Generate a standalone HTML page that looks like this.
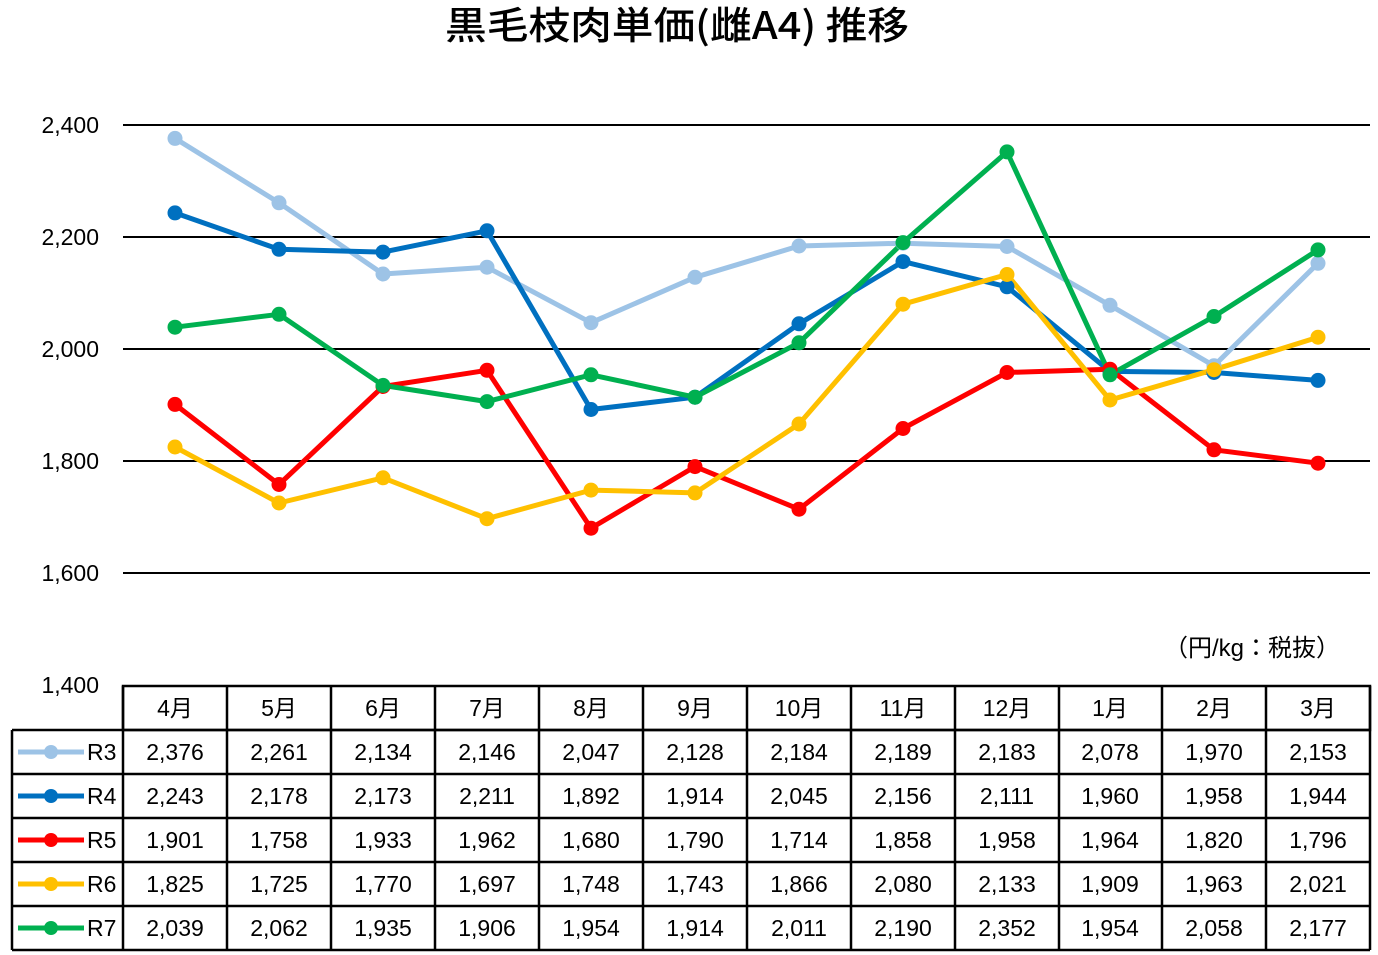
<!DOCTYPE html>
<html><head><meta charset="utf-8"><style>
html,body{margin:0;padding:0;background:#fff;}
svg{display:block;font-family:"Liberation Sans","Noto Sans CJK JP",sans-serif;}
</style></head><body>
<svg width="1378" height="955" viewBox="0 0 1378 955" xmlns="http://www.w3.org/2000/svg">
<text x="677" y="39" font-size="38" text-anchor="middle" font-weight="500" fill="#000" font-family="'Noto Sans CJK JP','Liberation Sans',sans-serif" textLength="464" lengthAdjust="spacingAndGlyphs">黒毛枝肉単価(雌A4) 推移</text>
<g stroke="#000" stroke-width="2">
<line x1="123" y1="125" x2="1370" y2="125"/>
<line x1="123" y1="237" x2="1370" y2="237"/>
<line x1="123" y1="349" x2="1370" y2="349"/>
<line x1="123" y1="461" x2="1370" y2="461"/>
<line x1="123" y1="573" x2="1370" y2="573"/>
</g>
<g font-size="23" text-anchor="end" fill="#000">
<text x="99" y="133">2,400</text>
<text x="99" y="245">2,200</text>
<text x="99" y="357">2,000</text>
<text x="99" y="469">1,800</text>
<text x="99" y="581">1,600</text>
<text x="99" y="693">1,400</text>
</g>
<text x="1340" y="656" font-size="24" text-anchor="end" fill="#000">（円/kg：税抜）</text>
<g fill="none" stroke-width="5" stroke-linejoin="round">
<polyline stroke="#9dc3e6" points="175,138.4 279,202.8 383,274 487,267.2 591,322.7 695,277.3 799,246 903,243.2 1007,246.5 1110,305.3 1214,365.8 1318,263.3"/>
<polyline stroke="#0070c0" points="175,212.9 279,249.3 383,252.1 487,230.8 591,409.5 695,397.2 799,323.8 903,261.6 1007,286.8 1110,371.4 1214,372.5 1318,380.4"/>
<polyline stroke="#ff0000" points="175,404.4 279,484.5 383,386.5 487,370.3 591,528.2 695,466.6 799,509.2 903,428.5 1007,372.5 1110,369.2 1214,449.8 1318,463.2"/>
<polyline stroke="#ffc000" points="175,447 279,503 383,477.8 487,518.7 591,490.1 695,492.9 799,424 903,304.2 1007,274.5 1110,400 1214,369.7 1318,337.2"/>
<polyline stroke="#00b050" points="175,327.2 279,314.3 383,385.4 487,401.6 591,374.8 695,397.2 799,342.8 903,242.6 1007,151.9 1110,374.8 1214,316.5 1318,249.9"/>
</g>
<g fill="#9dc3e6"><circle cx="175" cy="138.4" r="7.5"/><circle cx="279" cy="202.8" r="7.5"/><circle cx="383" cy="274" r="7.5"/><circle cx="487" cy="267.2" r="7.5"/><circle cx="591" cy="322.7" r="7.5"/><circle cx="695" cy="277.3" r="7.5"/><circle cx="799" cy="246" r="7.5"/><circle cx="903" cy="243.2" r="7.5"/><circle cx="1007" cy="246.5" r="7.5"/><circle cx="1110" cy="305.3" r="7.5"/><circle cx="1214" cy="365.8" r="7.5"/><circle cx="1318" cy="263.3" r="7.5"/></g>
<g fill="#0070c0"><circle cx="175" cy="212.9" r="7.5"/><circle cx="279" cy="249.3" r="7.5"/><circle cx="383" cy="252.1" r="7.5"/><circle cx="487" cy="230.8" r="7.5"/><circle cx="591" cy="409.5" r="7.5"/><circle cx="695" cy="397.2" r="7.5"/><circle cx="799" cy="323.8" r="7.5"/><circle cx="903" cy="261.6" r="7.5"/><circle cx="1007" cy="286.8" r="7.5"/><circle cx="1110" cy="371.4" r="7.5"/><circle cx="1214" cy="372.5" r="7.5"/><circle cx="1318" cy="380.4" r="7.5"/></g>
<g fill="#ff0000"><circle cx="175" cy="404.4" r="7.5"/><circle cx="279" cy="484.5" r="7.5"/><circle cx="383" cy="386.5" r="7.5"/><circle cx="487" cy="370.3" r="7.5"/><circle cx="591" cy="528.2" r="7.5"/><circle cx="695" cy="466.6" r="7.5"/><circle cx="799" cy="509.2" r="7.5"/><circle cx="903" cy="428.5" r="7.5"/><circle cx="1007" cy="372.5" r="7.5"/><circle cx="1110" cy="369.2" r="7.5"/><circle cx="1214" cy="449.8" r="7.5"/><circle cx="1318" cy="463.2" r="7.5"/></g>
<g fill="#ffc000"><circle cx="175" cy="447" r="7.5"/><circle cx="279" cy="503" r="7.5"/><circle cx="383" cy="477.8" r="7.5"/><circle cx="487" cy="518.7" r="7.5"/><circle cx="591" cy="490.1" r="7.5"/><circle cx="695" cy="492.9" r="7.5"/><circle cx="799" cy="424" r="7.5"/><circle cx="903" cy="304.2" r="7.5"/><circle cx="1007" cy="274.5" r="7.5"/><circle cx="1110" cy="400" r="7.5"/><circle cx="1214" cy="369.7" r="7.5"/><circle cx="1318" cy="337.2" r="7.5"/></g>
<g fill="#00b050"><circle cx="175" cy="327.2" r="7.5"/><circle cx="279" cy="314.3" r="7.5"/><circle cx="383" cy="385.4" r="7.5"/><circle cx="487" cy="401.6" r="7.5"/><circle cx="591" cy="374.8" r="7.5"/><circle cx="695" cy="397.2" r="7.5"/><circle cx="799" cy="342.8" r="7.5"/><circle cx="903" cy="242.6" r="7.5"/><circle cx="1007" cy="151.9" r="7.5"/><circle cx="1110" cy="374.8" r="7.5"/><circle cx="1214" cy="316.5" r="7.5"/><circle cx="1318" cy="249.9" r="7.5"/></g>
<g stroke="#000" stroke-width="2.5" fill="none">
<rect x="123" y="686" width="1247" height="44"/>
<line x1="12" y1="730" x2="1370" y2="730"/>
<line x1="12" y1="774" x2="1370" y2="774"/>
<line x1="12" y1="818" x2="1370" y2="818"/>
<line x1="12" y1="862" x2="1370" y2="862"/>
<line x1="12" y1="906" x2="1370" y2="906"/>
<line x1="12" y1="950" x2="1370" y2="950"/>
<line x1="12" y1="730" x2="12" y2="950"/>
<line x1="123" y1="686" x2="123" y2="950"/>
<line x1="227" y1="686" x2="227" y2="950"/>
<line x1="331" y1="686" x2="331" y2="950"/>
<line x1="435" y1="686" x2="435" y2="950"/>
<line x1="539" y1="686" x2="539" y2="950"/>
<line x1="643" y1="686" x2="643" y2="950"/>
<line x1="747" y1="686" x2="747" y2="950"/>
<line x1="851" y1="686" x2="851" y2="950"/>
<line x1="955" y1="686" x2="955" y2="950"/>
<line x1="1059" y1="686" x2="1059" y2="950"/>
<line x1="1162" y1="686" x2="1162" y2="950"/>
<line x1="1266" y1="686" x2="1266" y2="950"/>
<line x1="1370" y1="686" x2="1370" y2="950"/>
</g>
<g stroke-width="5">
<line x1="18" y1="752" x2="84" y2="752" stroke="#9dc3e6"/><circle cx="51" cy="752" r="7" fill="#9dc3e6"/>
<line x1="18" y1="796" x2="84" y2="796" stroke="#0070c0"/><circle cx="51" cy="796" r="7" fill="#0070c0"/>
<line x1="18" y1="840" x2="84" y2="840" stroke="#ff0000"/><circle cx="51" cy="840" r="7" fill="#ff0000"/>
<line x1="18" y1="884" x2="84" y2="884" stroke="#ffc000"/><circle cx="51" cy="884" r="7" fill="#ffc000"/>
<line x1="18" y1="928" x2="84" y2="928" stroke="#00b050"/><circle cx="51" cy="928" r="7" fill="#00b050"/>
</g>
<g font-size="23" fill="#000">
<text x="87" y="760">R3</text><text x="87" y="804">R4</text><text x="87" y="848">R5</text><text x="87" y="892">R6</text><text x="87" y="936">R7</text>
</g>
<g font-size="23" fill="#000" text-anchor="middle">
<text x="175" y="716">4月</text><text x="279" y="716">5月</text><text x="383" y="716">6月</text><text x="487" y="716">7月</text><text x="591" y="716">8月</text><text x="695" y="716">9月</text><text x="799" y="716">10月</text><text x="903" y="716">11月</text><text x="1007" y="716">12月</text><text x="1110" y="716">1月</text><text x="1214" y="716">2月</text><text x="1318" y="716">3月</text>
<text x="175" y="760">2,376</text><text x="279" y="760">2,261</text><text x="383" y="760">2,134</text><text x="487" y="760">2,146</text><text x="591" y="760">2,047</text><text x="695" y="760">2,128</text><text x="799" y="760">2,184</text><text x="903" y="760">2,189</text><text x="1007" y="760">2,183</text><text x="1110" y="760">2,078</text><text x="1214" y="760">1,970</text><text x="1318" y="760">2,153</text>
<text x="175" y="804">2,243</text><text x="279" y="804">2,178</text><text x="383" y="804">2,173</text><text x="487" y="804">2,211</text><text x="591" y="804">1,892</text><text x="695" y="804">1,914</text><text x="799" y="804">2,045</text><text x="903" y="804">2,156</text><text x="1007" y="804">2,111</text><text x="1110" y="804">1,960</text><text x="1214" y="804">1,958</text><text x="1318" y="804">1,944</text>
<text x="175" y="848">1,901</text><text x="279" y="848">1,758</text><text x="383" y="848">1,933</text><text x="487" y="848">1,962</text><text x="591" y="848">1,680</text><text x="695" y="848">1,790</text><text x="799" y="848">1,714</text><text x="903" y="848">1,858</text><text x="1007" y="848">1,958</text><text x="1110" y="848">1,964</text><text x="1214" y="848">1,820</text><text x="1318" y="848">1,796</text>
<text x="175" y="892">1,825</text><text x="279" y="892">1,725</text><text x="383" y="892">1,770</text><text x="487" y="892">1,697</text><text x="591" y="892">1,748</text><text x="695" y="892">1,743</text><text x="799" y="892">1,866</text><text x="903" y="892">2,080</text><text x="1007" y="892">2,133</text><text x="1110" y="892">1,909</text><text x="1214" y="892">1,963</text><text x="1318" y="892">2,021</text>
<text x="175" y="936">2,039</text><text x="279" y="936">2,062</text><text x="383" y="936">1,935</text><text x="487" y="936">1,906</text><text x="591" y="936">1,954</text><text x="695" y="936">1,914</text><text x="799" y="936">2,011</text><text x="903" y="936">2,190</text><text x="1007" y="936">2,352</text><text x="1110" y="936">1,954</text><text x="1214" y="936">2,058</text><text x="1318" y="936">2,177</text>
</g>
</svg>
</body></html>
